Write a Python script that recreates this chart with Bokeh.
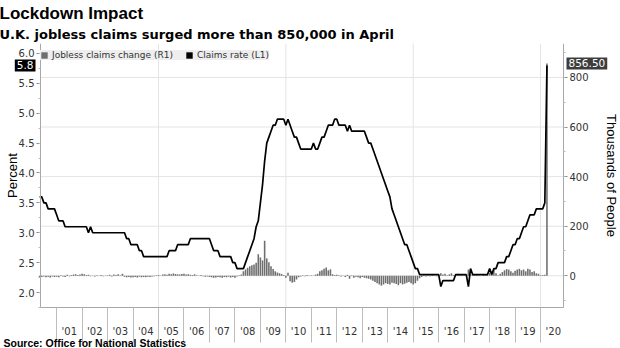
from bokeh.plotting import figure
from bokeh.models import (Range1d, LinearAxis, FixedTicker, Legend, LegendItem,
                          Label, Title, ColumnDataSource, NumeralTickFormatter)
from bokeh.embed import file_html
from bokeh.resources import INLINE

# ---------------- data (monthly, May 2000 .. Apr 2020) ----------------
first_year, first_month = 2000, 5

claims_rate = [  # percent (L1)
    3.6, 3.6, 3.5, 3.5, 3.4, 3.4, 3.4, 3.4,                          # 2000 May-Dec
    3.3, 3.2, 3.2, 3.2, 3.1, 3.1, 3.1, 3.1, 3.1, 3.1, 3.1, 3.1,      # 2001
    3.1, 3.1, 3.1, 3.0, 3.1, 3.0, 3.0, 3.0, 3.0, 3.0, 3.0, 3.0,      # 2002
    3.0, 3.0, 3.0, 3.0, 3.0, 3.0, 3.0, 3.0, 3.0, 2.9, 2.9, 2.8,      # 2003
    2.8, 2.8, 2.8, 2.7, 2.7, 2.6, 2.6, 2.6, 2.6, 2.6, 2.6, 2.6,      # 2004
    2.6, 2.6, 2.6, 2.6, 2.6, 2.7, 2.7, 2.7, 2.7, 2.8, 2.8, 2.8,      # 2005
    2.8, 2.8, 2.8, 2.9, 2.9, 2.9, 2.9, 2.9, 2.9, 2.9, 2.9, 2.9,      # 2006
    2.9, 2.8, 2.7, 2.7, 2.7, 2.6, 2.6, 2.6, 2.6, 2.6, 2.6, 2.5,      # 2007
    2.5, 2.4, 2.4, 2.4, 2.4, 2.5, 2.6, 2.7, 2.8, 2.9, 3.1, 3.2,      # 2008
    3.5, 3.8, 4.2, 4.5, 4.6, 4.7, 4.8, 4.8, 4.9, 4.9, 4.9, 4.9,      # 2009
    4.8, 4.9, 4.8, 4.7, 4.6, 4.6, 4.5, 4.4, 4.4, 4.4, 4.4, 4.4,      # 2010
    4.4, 4.5, 4.4, 4.4, 4.5, 4.6, 4.6, 4.7, 4.8, 4.8, 4.8, 4.9,      # 2011
    4.9, 4.8, 4.8, 4.8, 4.8, 4.7, 4.8, 4.7, 4.7, 4.7, 4.7, 4.7,      # 2012
    4.7, 4.7, 4.6, 4.5, 4.5, 4.4, 4.3, 4.2, 4.1, 4.0, 3.9, 3.8,      # 2013
    3.7, 3.6, 3.4, 3.3, 3.2, 3.1, 3.0, 2.9, 2.8, 2.8, 2.7, 2.6,      # 2014
    2.5, 2.4, 2.4, 2.3, 2.3, 2.3, 2.3, 2.3, 2.3, 2.3, 2.3, 2.3,      # 2015
    2.3, 2.1, 2.2, 2.2, 2.2, 2.2, 2.2, 2.2, 2.3, 2.3, 2.3, 2.3,      # 2016
    2.3, 2.3, 2.1, 2.4, 2.3, 2.3, 2.3, 2.3, 2.3, 2.3, 2.3, 2.3,      # 2017
    2.4, 2.3, 2.4, 2.4, 2.5, 2.5, 2.5, 2.5, 2.6, 2.6, 2.7, 2.8,      # 2018
    2.8, 2.9, 2.9, 3.0, 3.1, 3.1, 3.2, 3.3, 3.3, 3.3, 3.4, 3.4,      # 2019
    3.4, 3.4, 3.5, 5.8,                                              # 2020 Jan-Apr
]

claims_change = [  # thousands (R1)
    -8, -5, -3, -6, -4, -7, -3, -5,                                  # 2000 May-Dec
    -4, -6, 2, -3, -5, 4, -2, 3, 5, 6, 3, 5,                         # 2001
    8, 6, 3, 4, -2, 1, -3, 2, -1, 3, -2, 1,                          # 2002
    2, 4, -3, 5, 3, 6, 2, 8, -4, -6, -5, -7,                         # 2003
    -6, -5, -7, -4, -6, -5, -6, -4, -5, -3, -2, 2,                   # 2004
    3, 1, 5, 6, 4, 8, 6, 9, 7, 6, 5, 7,                              # 2005
    8, 5, 6, 4, 3, 6, 2, 1, 3, -2, -4, -3,                           # 2006
    -5, -6, -8, -7, -5, -6, -8, -5, -6, -4, -7, -5,                  # 2007
    -8, -3, 2, 5, 18, 25, 32, 38, 42, 45, 53, 87,                    # 2008
    74, 62, 141, 70, 55, 38, 27, 18, 13, 10, 7, 3,                   # 2009
    -8, 12, -22, -28, -25, -15, -6, -3, 2, -2, 3, -1,                # 2010
    2, -1, 5, 8, 18, 22, 28, 33, 22, 26, 6, 3,                       # 2011
    4, 2, -3, 1, -5, 4, -12, 2, -8, -4, -6, -10,                     # 2012
    -5, -8, -10, -12, -15, -20, -25, -30, -35, -40, -35, -30,        # 2013
    -33, -35, -28, -30, -33, -38, -30, -35, -32, -28, -25, -30,      # 2014
    -35, -30, -20, -10, -5, 2, -3, 2, -2, 3, 1, -2,                  # 2015
    3, 10, 5, 8, 2, 6, 10, 3, 2, 8, 4, 3,                            # 2016
    2, -2, 25, 5, 8, 3, 4, 2, 1, 3, 5, 3,                            # 2017
    12, 18, 25, 10, 2, 8, 15, 22, 27, 25, 18, 12,                    # 2018
    20, 25, 28, 22, 25, 18, 28, 25, 15, 18, 10, 8,                   # 2019
    2, 3, 4, 856.5,                                                  # 2020 Jan-Apr
]

year_starts = list(range(2001, 2021))
year_labels = ["'01", "'02", "'03", "'04", "'05", "'06", "'07", "'08", "'09", "'10",
               "'11", "'12", "'13", "'14", "'15", "'16", "'17", "'18", "'19", "'20"]
left_ticks = [2.0, 2.5, 3.0, 3.5, 4.0, 4.5, 5.0, 5.5, 6.0]
right_ticks = [0, 200, 400, 600, 800]
vgrid_years = [2005, 2010, 2015, 2020]

# ---------------- geometry ----------------
dates = [first_year + (first_month - 1 + i) / 12 for i in range(len(claims_rate))]
src = ColumnDataSource(dict(date=dates, rate=claims_rate, change=claims_change))

W, H = 620, 348
PL, PR, PT, PB = 40, 563, 43, 307          # plot box edges (pixels)
x0, x1 = 2000.367, 2020.90                 # time at left / right axis
y0, y1 = 1.749, 6.167                      # percent at bottom / top
r0, r1 = -128, 937                         # thousands at bottom / top
px_x = (x1 - x0) / (PR - PL)
px_y = (y1 - y0) / (PB - PT)
px_r = (r1 - r0) / (PB - PT)
FRAME_H = H - PT

FONT = "DejaVu Sans"
GRID = "#e4e4e4"
AXC = "#a8a8a8"
TXT = "#333333"

p = figure(width=W, height=H, output_backend="svg", toolbar_location=None,
           x_range=Range1d(x0 - PL * px_x, x1 + (W - PR) * px_x),
           y_range=Range1d(y0 - (H - PB) * px_y, y1),
           x_axis_location=None, y_axis_location=None,
           min_border_left=0, min_border_right=0, min_border_top=PT, min_border_bottom=0,
           title="Lockdown Impact")
p.extra_y_ranges = {"right": Range1d(r0 - (H - PB) * px_r, r1)}
p.outline_line_color = None
p.grid.visible = False

p.title.text_font = "Liberation Sans"
p.title.text_font_size = "17px"
p.title.text_font_style = "bold"
p.title.text_color = "black"
p.title.offset = -1
p.title.standoff = 0

sub = Title(text="U.K. jobless claims surged more than 850,000 in April",
            text_font=FONT, text_font_size="13px", text_font_style="bold",
            text_color="black", offset=-1, standoff=4)
p.add_layout(sub, "above")

# grid lines, bounded to the plot box
p.segment(x0=x0, x1=x1, y0=right_ticks, y1=right_ticks, y_range_name="right",
          line_color=GRID, line_width=1)
p.segment(x0=vgrid_years, x1=vgrid_years, y0=y0, y1=y1, line_color=GRID, line_width=1)

# x axis: labels mid-year, long separators at year boundaries
xaxis = LinearAxis(
    fixed_location=y0, bounds=(x0, x1),
    ticker=FixedTicker(ticks=[y + 0.5 for y in year_starts], minor_ticks=year_starts),
    major_label_overrides={y + 0.5: lab for y, lab in zip(year_starts, year_labels)},
    major_tick_in=0, major_tick_out=0, minor_tick_in=0, minor_tick_out=35,
    major_label_standoff=-17, axis_line_color=AXC, minor_tick_line_color="#bdbdbd",
    major_label_text_font=FONT, major_label_text_font_size="10px",
    major_label_text_color=TXT)
p.add_layout(xaxis, "below")

yl = LinearAxis(
    fixed_location=x0, bounds=(y0, y1),
    ticker=FixedTicker(ticks=left_ticks, minor_ticks=[1.75 + 0.25 * i for i in range(18)]),
    formatter=NumeralTickFormatter(format="0.0"),
    axis_label="Percent", axis_label_text_font="Liberation Sans",
    axis_label_text_font_size="13px", axis_label_text_font_style="normal",
    axis_label_text_color="black", axis_label_standoff=-4,
    major_tick_in=0, major_tick_out=4, minor_tick_in=0, minor_tick_out=2,
    major_label_standoff=2, axis_line_color=AXC, major_tick_line_color="#888888",
    minor_tick_line_color="#bbbbbb",
    major_label_text_font=FONT, major_label_text_font_size="10px",
    major_label_text_color=TXT)
p.add_layout(yl, "left")

yr = LinearAxis(
    y_range_name="right", fixed_location=x1, bounds=(r0, r1),
    ticker=FixedTicker(ticks=right_ticks, minor_ticks=[-100 + 100 * i for i in range(11)]),
    axis_label="Thousands of People", axis_label_text_font="Liberation Sans",
    axis_label_text_font_size="13px", axis_label_text_font_style="normal",
    axis_label_text_color="black", axis_label_standoff=12,
    major_tick_in=0, major_tick_out=4, minor_tick_in=0, minor_tick_out=2,
    major_label_standoff=2, axis_line_color=AXC, major_tick_line_color="#888888",
    minor_tick_line_color="#bbbbbb",
    major_label_text_font=FONT, major_label_text_font_size="10px",
    major_label_text_color=TXT)
p.add_layout(yr, "right")

bars = p.vbar(x="date", top="change", bottom=0, width=0.062, source=src,
              y_range_name="right", fill_color="#6f6f6f", line_color=None)
line = p.line(x="date", y="rate", source=src, line_color="black", line_width=1.7)
# zero-height boxes on the rate series: used only for the square legend key
rate_key = p.vbar(x="date", top="rate", bottom="rate", width=0, source=src,
                  fill_color="black", line_color=None)

LEG_H = 17
legend = Legend(items=[LegendItem(label="Jobless claims change (R1)", renderers=[bars]),
                       LegendItem(label="Claims rate (L1)", renderers=[rate_key])],
                location=(PL, FRAME_H - LEG_H), orientation="horizontal", margin=0,
                padding=4, spacing=12, label_standoff=4, glyph_width=8, glyph_height=8,
                label_height=8, label_text_font=FONT, label_text_font_size="9px",
                label_text_color=TXT, background_fill_color="#eeeeee",
                background_fill_alpha=1, border_line_color=None)
p.add_layout(legend)

# value tags
p.add_layout(Label(x=x0 - 5 * px_x, y=claims_rate[-1], text=f"{claims_rate[-1]:.1f}",
                   text_align="right", text_baseline="middle", text_color="white",
                   text_font=FONT, text_font_size="10.5px",
                   background_fill_color="black", padding=2))
p.add_layout(Label(x=x1 + 3 * px_x, y=claims_change[-1], y_range_name="right",
                   text=f"{claims_change[-1]:.2f}", text_align="left",
                   text_baseline="middle", text_color="white",
                   text_font=FONT, text_font_size="10.5px",
                   background_fill_color="#3d3d3d", padding=2))

# source note
p.add_layout(Label(x=x0 - 37 * px_x, y=y0 - 35 * px_y,
                   text="Source: Office for National Statistics",
                   text_align="left", text_baseline="middle", text_color="black",
                   text_font="Liberation Sans", text_font_size="10.5px",
                   text_font_style="bold"))

open("out.html", "w").write(file_html(p, INLINE))
